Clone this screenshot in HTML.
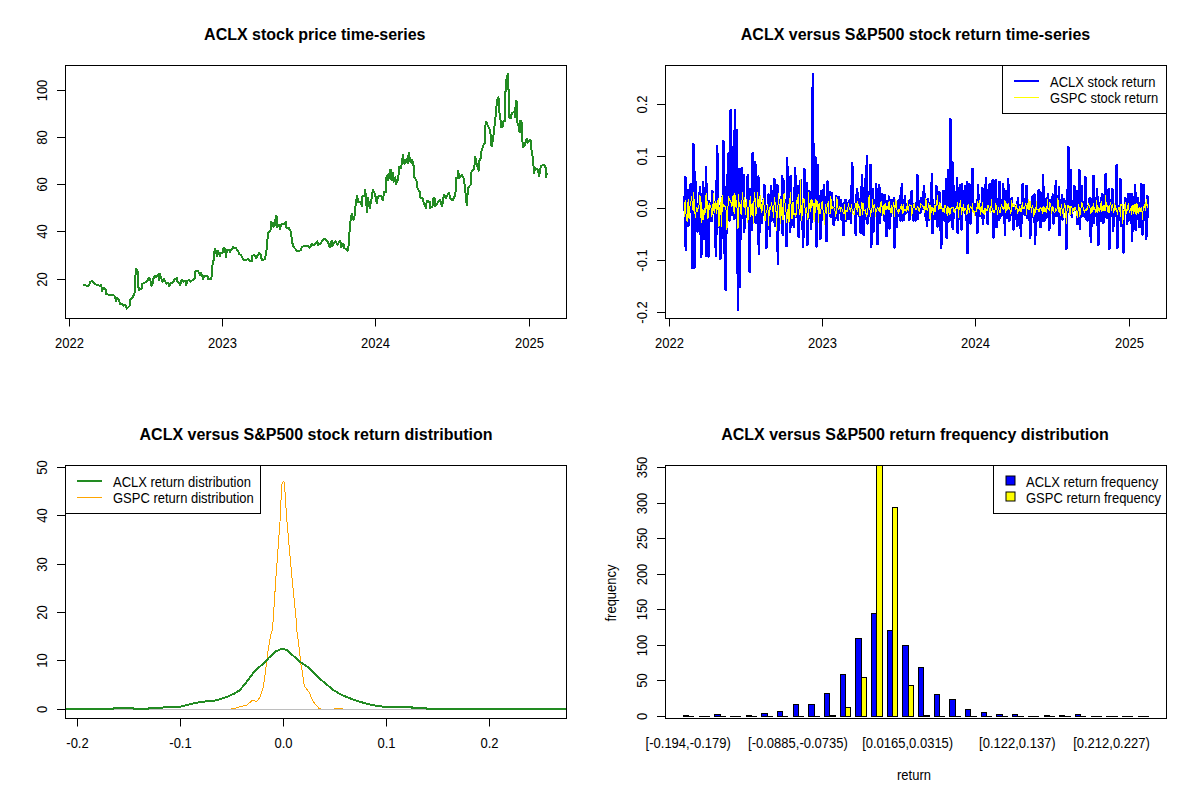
<!DOCTYPE html>
<html><head><meta charset="utf-8"><style>html,body{margin:0;padding:0;background:#fff;}svg{display:block;}</style></head>
<body><svg width="1200" height="800" viewBox="0 0 1200 800" font-family="Liberation Sans, sans-serif">
<rect width="1200" height="800" fill="#fff"/>
<rect x="65.5" y="65.5" width="501" height="253" fill="none" stroke="#000" stroke-width="1"/>
<line x1="69.5" y1="318" x2="69.5" y2="326.5" stroke="#000" stroke-width="1" />
<text transform="translate(69.5,348) scale(1,1.1)" font-size="13" text-anchor="middle" font-weight="normal" fill="#000">2022</text>
<line x1="222.5" y1="318" x2="222.5" y2="326.5" stroke="#000" stroke-width="1" />
<text transform="translate(222.5,348) scale(1,1.1)" font-size="13" text-anchor="middle" font-weight="normal" fill="#000">2023</text>
<line x1="375.5" y1="318" x2="375.5" y2="326.5" stroke="#000" stroke-width="1" />
<text transform="translate(375.5,348) scale(1,1.1)" font-size="13" text-anchor="middle" font-weight="normal" fill="#000">2024</text>
<line x1="529.5" y1="318" x2="529.5" y2="326.5" stroke="#000" stroke-width="1" />
<text transform="translate(529.5,348) scale(1,1.1)" font-size="13" text-anchor="middle" font-weight="normal" fill="#000">2025</text>
<line x1="69.5" y1="318.5" x2="529.5" y2="318.5" stroke="#000" stroke-width="1" />
<line x1="57" y1="90.5" x2="65" y2="90.5" stroke="#000" stroke-width="1" />
<text transform="translate(46.8,90.5) rotate(-90) scale(1,1.1)" font-size="13" text-anchor="middle" font-weight="normal" fill="#000">100</text>
<line x1="57" y1="137.5" x2="65" y2="137.5" stroke="#000" stroke-width="1" />
<text transform="translate(46.8,137.5) rotate(-90) scale(1,1.1)" font-size="13" text-anchor="middle" font-weight="normal" fill="#000">80</text>
<line x1="57" y1="184.5" x2="65" y2="184.5" stroke="#000" stroke-width="1" />
<text transform="translate(46.8,184.5) rotate(-90) scale(1,1.1)" font-size="13" text-anchor="middle" font-weight="normal" fill="#000">60</text>
<line x1="57" y1="231.5" x2="65" y2="231.5" stroke="#000" stroke-width="1" />
<text transform="translate(46.8,231.5) rotate(-90) scale(1,1.1)" font-size="13" text-anchor="middle" font-weight="normal" fill="#000">40</text>
<line x1="57" y1="279.5" x2="65" y2="279.5" stroke="#000" stroke-width="1" />
<text transform="translate(46.8,279.5) rotate(-90) scale(1,1.1)" font-size="13" text-anchor="middle" font-weight="normal" fill="#000">20</text>
<text transform="translate(314.8,40)" font-size="16" text-anchor="middle" font-weight="bold" fill="#000">ACLX stock price time-series</text>
<g shape-rendering="crispEdges">
<polyline points="83.38,285.75 84.50,285.00 88.25,286.50 90.50,281.63 92.38,280.88 95.00,283.88 97.25,285.00 99.50,285.75 101.38,284.63 101.75,291.00 104.00,288.00 105.50,289.50 106.25,294.00 110.00,295.13 112.25,294.75 114.50,295.88 116.00,300.75 117.13,298.13 119.00,300.00 120.13,303.75 122.75,304.13 123.50,306.00 125.00,304.50 126.88,308.63 129.50,306.00 129.88,300.00 132.50,297.75 134.75,292.50 135.13,281.63 135.88,268.88 137.00,270.00 138.13,273.00 138.13,285.00 138.88,289.88 141.50,288.75 142.25,283.88 143.75,283.13 146.00,282.00 147.88,280.50 148.63,277.88 150.13,279.00 151.25,285.75 152.75,283.50 153.13,279.00 155.00,276.00 156.50,277.13 158.38,274.13 159.13,280.50 159.88,273.75 162.50,281.75 164.00,278.75 165.13,281.00 166.25,283.63 168.50,283.25 169.25,285.88 170.75,282.88 173.00,282.50 174.13,279.88 176.75,278.00 177.13,281.75 179.00,282.50 180.13,285.13 181.63,279.88 183.50,281.75 185.38,281.00 186.13,285.13 187.25,281.00 189.50,279.88 190.25,281.75 192.50,280.25 194.75,278.00 195.50,271.25 198.13,271.25 200.00,275.00 201.13,272.75 203.00,278.75 204.50,275.75 207.50,276.50 208.25,279.13 210.88,279.50 212.00,275.00 212.75,260.75 213.88,260.00 214.25,252.50 215.00,248.75 215.75,251.00 216.88,255.88 218.00,251.00 219.88,255.88 221.00,252.50 222.50,252.50 223.63,248.00 225.13,249.50 225.88,257.00 227.00,250.25 228.88,249.88 230.00,251.75 233.00,247.25 234.88,248.38 236.00,248.13 238.25,251.50 239.00,253.75 241.25,255.25 243.88,260.50 246.50,259.75 248.38,259.00 249.50,260.88 251.75,261.25 251.75,256.00 254.38,254.88 256.25,258.25 258.88,253.00 260.75,254.50 261.88,260.50 264.88,259.00 266.00,253.75 267.13,246.25 267.88,232.75 270.50,230.50 270.88,222.25 273.13,223.00 273.50,226.75 275.00,224.50 275.75,215.88 276.88,216.25 277.25,227.50 279.13,224.50 279.88,229.00 281.75,223.75 283.25,224.50 285.88,221.88 286.25,227.50 288.88,228.25 291.13,232.00 291.88,241.75 293.75,247.00 297.50,251.50 300.50,250.38 302.00,246.63 305.00,246.25 308.75,246.25 309.50,248.13 312.00,243.62 313.75,245.37 317.25,241.43 318.12,245.37 320.75,243.18 323.81,238.81 326.00,239.68 328.18,242.74 329.93,247.55 331.68,240.99 332.12,246.24 335.62,240.99 337.37,244.93 339.56,240.99 340.43,240.56 340.87,247.12 343.50,243.62 344.37,247.99 347.87,250.62 348.74,244.49 349.62,230.49 350.49,220.87 351.81,213.87 353.56,220.00 354.87,214.75 355.74,203.37 357.06,195.94 358.37,202.50 360.56,201.62 361.87,206.00 362.31,196.37 364.49,195.50 364.93,189.81 366.24,196.37 366.68,212.12 367.99,198.12 369.74,208.18 371.49,199.00 372.80,189.81 374.99,193.75 376.74,202.94 378.05,196.37 381.12,195.94 382.87,200.31 384.18,192.00 386.12,191.81 386.12,178.25 387.44,175.18 388.31,180.00 390.06,169.93 391.37,170.37 391.37,180.00 393.12,173.00 393.56,182.18 395.31,177.37 396.19,183.93 398.37,179.12 398.81,166.87 401.00,167.75 402.31,161.62 402.75,154.62 404.50,163.81 406.25,159.44 407.56,163.37 408.87,152.44 410.18,161.19 411.50,162.50 411.93,159.44 413.68,166.00 414.12,177.37 416.31,180.00 417.62,188.74 419.81,192.24 420.24,197.49 422.87,198.37 423.74,203.62 425.93,207.99 426.81,200.99 429.87,201.87 430.31,207.99 432.49,206.24 433.37,198.37 434.68,198.37 435.12,206.24 437.74,202.74 439.93,199.68 442.12,206.24 443.43,197.49 444.30,194.87 445.62,198.37 448.24,193.99 449.12,192.68 449.99,198.37 452.62,200.12 454.80,195.74 455.68,191.37 456.12,178.25 457.87,177.37 457.87,170.81 458.37,171.12 458.94,177.87 461.75,175.06 464.00,179.00 465.69,194.75 466.81,205.44 467.94,188.00 470.75,184.62 471.31,172.25 474.12,168.87 475.25,157.06 476.94,165.50 478.62,170.56 479.19,161.00 481.44,156.50 481.44,150.87 483.69,144.69 485.37,143.00 485.37,126.12 485.94,121.43 488.12,126.24 490.31,130.62 491.19,145.49 492.06,146.36 492.94,137.62 494.25,130.62 494.69,122.74 496.00,113.12 496.87,100.87 498.18,97.37 499.06,100.00 499.50,113.12 500.37,115.74 500.81,127.12 503.00,126.24 503.43,120.99 505.18,120.99 505.62,82.50 506.93,78.12 507.81,74.19 508.25,89.50 509.12,90.37 509.12,117.49 510.87,118.37 511.75,113.12 513.50,112.24 514.81,111.37 515.24,117.49 515.68,100.87 516.99,101.75 517.43,122.74 518.74,126.24 519.62,132.37 520.06,120.99 521.37,120.99 522.24,128.87 522.65,147.49 524.99,145.61 525.93,139.99 527.33,138.58 527.80,142.80 529.68,139.99 530.61,140.93 531.08,147.49 532.49,155.92 533.43,164.36 533.89,172.79 535.30,168.11 538.11,169.98 539.05,176.54 540.92,166.23 543.27,164.83 544.20,165.30 546.08,168.11 546.08,177.01 547.01,172.79" fill="none" stroke="#228B22" stroke-width="2" stroke-linejoin="round" />
</g>
<rect x="665.5" y="65.5" width="501" height="253" fill="none" stroke="#000" stroke-width="1"/>
<line x1="669.5" y1="318" x2="669.5" y2="326.5" stroke="#000" stroke-width="1" />
<text transform="translate(669.5,348) scale(1,1.1)" font-size="13" text-anchor="middle" font-weight="normal" fill="#000">2022</text>
<line x1="822.5" y1="318" x2="822.5" y2="326.5" stroke="#000" stroke-width="1" />
<text transform="translate(822.5,348) scale(1,1.1)" font-size="13" text-anchor="middle" font-weight="normal" fill="#000">2023</text>
<line x1="975.5" y1="318" x2="975.5" y2="326.5" stroke="#000" stroke-width="1" />
<text transform="translate(975.5,348) scale(1,1.1)" font-size="13" text-anchor="middle" font-weight="normal" fill="#000">2024</text>
<line x1="1129.5" y1="318" x2="1129.5" y2="326.5" stroke="#000" stroke-width="1" />
<text transform="translate(1129.5,348) scale(1,1.1)" font-size="13" text-anchor="middle" font-weight="normal" fill="#000">2025</text>
<line x1="669.5" y1="318.5" x2="1129.5" y2="318.5" stroke="#000" stroke-width="1" />
<line x1="657" y1="104.5" x2="665" y2="104.5" stroke="#000" stroke-width="1" />
<text transform="translate(646.8,104.5) rotate(-90) scale(1,1.1)" font-size="13" text-anchor="middle" font-weight="normal" fill="#000">0.2</text>
<line x1="657" y1="156.5" x2="665" y2="156.5" stroke="#000" stroke-width="1" />
<text transform="translate(646.8,156.5) rotate(-90) scale(1,1.1)" font-size="13" text-anchor="middle" font-weight="normal" fill="#000">0.1</text>
<line x1="657" y1="208.5" x2="665" y2="208.5" stroke="#000" stroke-width="1" />
<text transform="translate(646.8,208.5) rotate(-90) scale(1,1.1)" font-size="13" text-anchor="middle" font-weight="normal" fill="#000">0.0</text>
<line x1="657" y1="260.5" x2="665" y2="260.5" stroke="#000" stroke-width="1" />
<text transform="translate(646.8,260.5) rotate(-90) scale(1,1.1)" font-size="13" text-anchor="middle" font-weight="normal" fill="#000">-0.1</text>
<line x1="657" y1="312.5" x2="665" y2="312.5" stroke="#000" stroke-width="1" />
<text transform="translate(646.8,312.5) rotate(-90) scale(1,1.1)" font-size="13" text-anchor="middle" font-weight="normal" fill="#000">-0.2</text>
<text transform="translate(915.5,40)" font-size="16" text-anchor="middle" font-weight="bold" fill="#000">ACLX versus S&amp;P500 stock return time-series</text>
<g shape-rendering="crispEdges">
<polyline points="684.00,211.04 684.61,206.24 685.23,177.16 685.84,250.22 686.46,210.86 687.07,211.41 687.68,190.20 688.30,225.49 688.91,215.26 689.52,210.78 690.14,202.49 690.75,184.21 691.37,206.79 691.98,202.96 692.59,268.22 693.21,144.48 693.82,207.89 694.43,267.47 695.05,172.21 695.66,206.97 696.28,208.28 696.89,219.86 697.50,231.48 698.12,204.09 698.73,206.28 699.34,206.32 699.96,187.20 700.57,220.02 701.19,256.97 701.80,220.34 702.41,215.00 703.03,182.26 703.64,212.37 704.25,238.98 704.87,207.53 705.48,209.73 706.10,167.41 706.71,256.22 707.32,206.18 707.94,213.46 708.55,256.22 709.16,201.45 709.78,207.51 710.39,206.98 711.01,213.58 711.62,220.99 712.23,191.25 712.85,199.54 713.46,205.96 714.07,201.96 714.69,213.32 715.30,214.07 715.92,255.47 716.53,211.59 717.14,146.27 717.76,210.11 718.37,205.49 718.98,207.89 719.60,212.24 720.21,259.22 720.83,215.42 721.44,212.70 722.05,201.81 722.67,214.49 723.28,141.48 723.89,253.22 724.51,207.91 725.12,206.78 725.74,289.96 726.35,218.76 726.96,175.21 727.58,209.14 728.19,201.28 728.80,153.47 729.42,220.38 730.03,211.45 730.65,110.29 731.26,210.11 731.87,214.55 732.49,147.47 733.10,206.33 733.71,209.83 734.33,218.60 734.94,110.29 735.56,204.27 736.17,205.26 736.78,129.78 737.40,203.53 738.01,309.45 738.62,200.44 739.24,169.21 739.85,286.96 740.47,207.18 741.08,208.70 741.69,168.46 742.31,217.56 742.92,205.59 743.53,175.21 744.15,231.48 744.76,213.27 745.38,212.27 745.99,217.35 746.60,215.49 747.22,212.76 747.83,175.21 748.44,201.38 749.06,220.38 749.67,271.96 750.29,189.15 750.90,218.56 751.51,207.95 752.13,229.99 752.74,153.17 753.35,200.42 753.97,205.83 754.58,220.38 755.20,161.72 755.81,223.24 756.42,220.38 757.04,207.21 757.65,214.05 758.26,176.71 758.88,253.97 759.49,216.44 760.11,203.33 760.72,202.55 761.33,208.46 761.95,222.49 762.56,207.91 763.17,206.73 763.79,199.54 764.40,185.25 765.02,205.57 765.63,206.20 766.24,247.98 766.86,206.02 767.47,219.25 768.08,201.43 768.70,194.70 769.31,203.47 769.93,235.98 770.54,206.13 771.15,186.15 771.77,220.38 772.38,213.40 772.99,204.18 773.61,220.38 774.22,179.26 774.84,225.49 775.45,210.59 776.06,203.07 776.68,217.64 777.29,185.25 777.90,263.72 778.52,199.54 779.13,205.99 779.75,210.38 780.36,207.41 780.97,205.38 781.59,208.69 782.20,176.26 782.81,234.48 783.43,180.46 784.04,202.28 784.66,213.58 785.27,212.03 785.88,202.93 786.50,245.73 787.11,158.27 787.72,209.27 788.34,214.95 788.95,203.52 789.57,200.28 790.18,232.23 790.79,176.26 791.41,212.22 792.02,218.07 792.63,210.28 793.25,210.37 793.86,226.99 794.48,211.31 795.09,168.46 795.70,200.66 796.32,215.86 796.93,201.56 797.54,217.37 798.16,185.70 798.77,236.73 799.39,214.36 800.00,205.49 800.61,180.46 801.23,202.39 801.84,204.07 802.46,207.28 803.07,247.23 803.68,208.55 804.30,169.21 804.91,208.49 805.52,205.85 806.14,210.54 806.75,183.46 807.37,244.98 807.98,207.71 808.59,205.86 809.21,190.95 809.82,209.44 810.43,204.67 811.05,228.49 811.66,205.90 812.28,199.54 812.89,74.01 813.50,207.41 814.12,212.12 814.73,211.77 815.34,157.22 815.96,209.52 816.57,246.48 817.19,203.67 817.80,165.46 818.41,211.55 819.03,207.03 819.64,199.54 820.25,238.98 820.87,190.95 821.48,220.38 822.10,216.47 822.71,207.92 823.32,206.95 823.94,184.96 824.55,207.95 825.16,212.14 825.78,205.35 826.39,241.23 827.01,207.68 827.62,181.51 828.23,212.71 828.85,199.54 829.46,207.22 830.07,191.70 830.69,216.49 831.30,212.91 831.92,193.20 832.53,210.06 833.14,210.85 833.76,224.74 834.37,209.83 834.98,220.38 835.60,212.49 836.21,196.20 836.83,203.14 837.44,216.75 838.05,219.49 838.67,196.95 839.28,209.86 839.89,203.48 840.51,204.09 841.12,200.12 841.74,220.08 842.35,211.65 842.96,211.57 843.58,235.23 844.19,205.55 844.80,202.62 845.42,199.95 846.03,220.38 846.65,202.64 847.26,214.99 847.87,218.49 848.49,205.17 849.10,218.77 849.71,199.95 850.33,208.34 850.94,223.24 851.56,201.97 852.17,163.22 852.78,210.38 853.40,208.25 854.01,204.46 854.62,208.56 855.24,210.00 855.85,235.23 856.47,199.86 857.08,189.15 857.69,202.89 858.31,211.28 858.92,199.54 859.53,216.61 860.15,203.72 860.76,232.98 861.38,211.10 861.99,175.21 862.60,208.61 863.22,205.03 863.83,235.23 864.44,208.05 865.06,205.45 865.67,178.21 866.29,218.99 866.90,156.17 867.51,223.24 868.13,218.88 868.74,205.60 869.35,215.46 869.97,215.86 870.58,165.16 871.20,246.48 871.81,218.63 872.42,201.52 873.04,189.45 873.65,231.48 874.26,204.77 874.88,200.23 875.49,215.30 876.11,184.21 876.72,209.44 877.33,244.23 877.95,216.57 878.56,204.65 879.17,184.96 879.79,222.49 880.40,199.54 881.02,215.01 881.63,199.69 882.24,193.95 882.86,203.26 883.47,210.55 884.08,220.38 884.70,195.45 885.31,200.65 885.93,210.04 886.54,235.98 887.15,213.21 887.77,206.94 888.38,206.88 888.99,196.65 889.61,228.49 890.22,200.08 890.84,215.82 891.45,202.34 892.06,200.14 892.68,200.36 893.29,210.57 893.90,198.45 894.52,247.23 895.13,214.09 895.75,203.07 896.36,208.72 896.97,226.99 897.59,202.20 898.20,208.67 898.81,200.54 899.43,211.09 900.04,196.20 900.66,220.38 901.27,211.86 901.88,184.21 902.50,220.38 903.11,204.32 903.72,220.24 904.34,207.46 904.95,196.20 905.57,213.26 906.18,209.50 906.79,204.24 907.41,208.95 908.02,201.15 908.63,209.83 909.25,220.24 909.86,202.94 910.48,200.12 911.09,199.54 911.70,190.95 912.32,213.64 912.93,203.94 913.54,220.38 914.16,217.24 914.77,216.22 915.39,220.38 916.00,202.76 916.61,217.14 917.23,175.21 917.84,218.74 918.46,209.52 919.07,210.64 919.68,209.62 920.30,213.14 920.91,198.15 921.52,207.98 922.14,199.54 922.75,209.17 923.37,206.12 923.98,186.00 924.59,203.19 925.21,210.68 925.82,217.32 926.43,212.91 927.05,226.24 927.66,199.20 928.28,202.73 928.89,219.73 929.50,213.18 930.12,203.14 930.73,204.49 931.34,209.39 931.96,174.16 932.57,232.98 933.19,204.41 933.80,208.40 934.41,216.81 935.03,219.22 935.64,213.44 936.25,186.15 936.87,203.67 937.48,226.24 938.10,212.98 938.71,215.08 939.32,192.15 939.94,214.26 940.55,219.02 941.16,247.98 941.78,210.18 942.39,216.82 943.01,207.17 943.62,190.95 944.23,220.38 944.85,207.39 945.46,213.45 946.07,178.96 946.69,237.48 947.30,220.38 947.92,204.91 948.53,169.96 949.14,211.16 949.76,220.38 950.37,118.99 950.98,214.91 951.60,207.62 952.21,162.47 952.83,229.24 953.44,212.31 954.05,186.45 954.67,204.57 955.28,204.77 955.89,205.28 956.51,207.40 957.12,178.21 957.74,232.98 958.35,201.10 958.96,205.32 959.58,206.62 960.19,184.96 960.80,220.38 961.42,229.24 962.03,184.21 962.65,203.84 963.26,201.26 963.87,211.30 964.49,212.38 965.10,186.45 965.71,199.54 966.33,220.38 966.94,181.96 967.56,253.22 968.17,206.51 968.78,199.54 969.40,184.21 970.01,215.24 970.62,223.24 971.24,205.13 971.85,199.54 972.47,168.91 973.08,210.19 973.69,205.93 974.31,203.80 974.92,215.10 975.53,210.00 976.15,207.61 976.76,204.28 977.38,232.98 977.99,184.96 978.60,209.66 979.22,210.66 979.83,215.79 980.44,211.69 981.06,203.87 981.67,208.81 982.29,187.95 982.90,223.99 983.51,214.78 984.13,214.70 984.74,199.54 985.35,202.32 985.97,177.91 986.58,205.46 987.20,220.38 987.81,223.99 988.42,205.56 989.04,206.44 989.65,184.21 990.26,199.54 990.88,206.77 991.49,209.86 992.11,206.18 992.72,180.01 993.33,237.48 993.95,220.38 994.56,202.98 995.17,207.41 995.79,180.46 996.40,226.99 997.02,213.83 997.63,201.15 998.24,199.54 998.86,220.24 999.47,182.26 1000.08,218.21 1000.70,213.61 1001.31,207.62 1001.93,208.29 1002.54,211.93 1003.15,184.21 1003.77,215.53 1004.38,199.54 1004.99,234.48 1005.61,190.95 1006.22,202.96 1006.84,216.91 1007.45,217.85 1008.06,179.26 1008.68,199.54 1009.29,220.99 1009.90,203.26 1010.52,199.54 1011.13,204.38 1011.75,198.45 1012.36,214.89 1012.97,207.81 1013.59,229.24 1014.20,220.38 1014.81,214.12 1015.43,209.81 1016.04,206.17 1016.66,213.99 1017.27,226.24 1017.88,198.15 1018.50,210.22 1019.11,206.58 1019.72,207.09 1020.34,205.45 1020.95,235.98 1021.57,208.14 1022.18,211.47 1022.79,184.21 1023.41,204.51 1024.02,209.13 1024.63,214.61 1025.25,213.36 1025.86,209.44 1026.48,186.15 1027.09,217.99 1027.70,210.13 1028.32,208.46 1028.93,209.45 1029.54,208.34 1030.16,238.23 1030.77,210.28 1031.39,217.31 1032.00,206.81 1032.61,196.20 1033.23,202.85 1033.84,206.72 1034.46,194.70 1035.07,244.23 1035.68,210.63 1036.30,206.65 1036.91,215.48 1037.52,220.38 1038.14,209.07 1038.75,190.20 1039.37,215.26 1039.98,191.70 1040.59,226.99 1041.21,204.82 1041.82,216.22 1042.43,220.38 1043.05,175.21 1043.66,215.94 1044.28,220.99 1044.89,199.58 1045.50,211.83 1046.12,218.00 1046.73,214.21 1047.34,206.19 1047.96,193.95 1048.57,206.34 1049.19,229.99 1049.80,208.34 1050.41,200.16 1051.03,205.02 1051.64,209.57 1052.25,205.71 1052.87,194.70 1053.48,223.24 1054.10,199.54 1054.71,203.37 1055.32,203.04 1055.94,181.21 1056.55,216.21 1057.16,210.37 1057.78,204.88 1058.39,211.30 1059.01,187.20 1059.62,235.23 1060.23,202.76 1060.85,205.71 1061.46,203.76 1062.07,194.70 1062.69,219.49 1063.30,210.77 1063.92,199.54 1064.53,201.69 1065.14,210.79 1065.76,208.88 1066.37,248.73 1066.98,199.54 1067.60,211.59 1068.21,147.17 1068.83,203.98 1069.44,203.31 1070.05,209.40 1070.67,169.96 1071.28,211.99 1071.89,216.74 1072.51,208.27 1073.12,207.20 1073.74,202.38 1074.35,186.45 1074.96,204.55 1075.58,209.29 1076.19,204.11 1076.80,190.95 1077.42,223.99 1078.03,206.07 1078.65,208.15 1079.26,170.26 1079.87,228.49 1080.49,209.10 1081.10,210.96 1081.71,186.45 1082.33,205.15 1082.94,216.03 1083.56,213.37 1084.17,209.41 1084.78,216.49 1085.40,177.16 1086.01,218.59 1086.62,212.17 1087.24,220.38 1087.85,213.71 1088.47,205.89 1089.08,205.90 1089.69,198.45 1090.31,209.78 1090.92,241.98 1091.53,210.89 1092.15,218.30 1092.76,199.54 1093.38,175.96 1093.99,223.24 1094.60,206.22 1095.22,202.61 1095.83,214.96 1096.44,210.60 1097.06,188.70 1097.67,220.38 1098.29,244.98 1098.90,204.56 1099.51,203.60 1100.13,220.38 1100.74,209.77 1101.35,205.50 1101.97,193.95 1102.58,220.38 1103.20,223.24 1103.81,220.38 1104.42,194.70 1105.04,216.10 1105.65,174.16 1106.26,213.38 1106.88,218.21 1107.49,209.24 1108.11,207.88 1108.72,189.45 1109.33,248.73 1109.95,205.48 1110.56,205.05 1111.17,200.05 1111.79,202.16 1112.40,189.15 1113.02,230.73 1113.63,217.64 1114.24,212.60 1114.86,216.07 1115.47,216.17 1116.08,209.95 1116.70,165.16 1117.31,247.98 1117.93,209.41 1118.54,206.38 1119.15,219.36 1119.77,217.18 1120.38,179.26 1120.99,225.49 1121.61,209.59 1122.22,210.69 1122.84,211.39 1123.45,252.47 1124.06,209.84 1124.68,214.19 1125.29,198.45 1125.90,205.06 1126.52,207.23 1127.13,223.99 1127.75,209.99 1128.36,193.95 1128.97,213.64 1129.59,210.53 1130.20,220.38 1130.81,215.58 1131.43,193.95 1132.04,241.23 1132.66,209.21 1133.27,218.85 1133.88,208.19 1134.50,208.52 1135.11,184.96 1135.72,229.99 1136.34,218.05 1136.95,211.01 1137.57,198.45 1138.18,211.40 1138.79,206.57 1139.41,226.99 1140.02,205.62 1140.63,209.67 1141.25,184.21 1141.86,214.76 1142.48,234.48 1143.09,210.34 1143.70,184.96 1144.32,209.85 1144.93,204.85 1145.54,207.60 1146.16,238.98 1146.77,213.96 1147.39,196.20 1148.00,217.91" fill="none" stroke="#0000FF" stroke-width="2.6" stroke-linejoin="round" />
<polyline points="684.00,217.97 684.61,205.45 685.23,200.62 685.84,212.41 686.46,218.79 687.07,221.43 687.68,204.66 688.30,199.82 688.91,217.90 689.52,218.50 690.14,202.88 690.75,204.70 691.37,196.41 691.98,200.72 692.59,209.20 693.21,210.54 693.82,192.77 694.43,210.66 695.05,214.53 695.66,217.30 696.28,207.65 696.89,207.26 697.50,211.10 698.12,208.89 698.73,206.27 699.34,202.99 699.96,195.01 700.57,206.76 701.19,222.39 701.80,202.92 702.41,219.49 703.03,209.74 703.64,219.92 704.25,208.38 704.87,214.48 705.48,206.73 706.10,192.77 706.71,208.78 707.32,201.82 707.94,218.74 708.55,210.65 709.16,203.22 709.78,209.12 710.39,205.51 711.01,207.59 711.62,216.26 712.23,203.99 712.85,214.75 713.46,193.77 714.07,212.35 714.69,203.04 715.30,208.38 715.92,200.96 716.53,213.11 717.14,200.59 717.76,209.37 718.37,198.53 718.98,227.31 719.60,207.30 720.21,214.50 720.83,202.40 721.44,226.95 722.05,195.57 722.67,211.35 723.28,204.06 723.89,204.43 724.51,206.19 725.12,206.77 725.74,206.98 726.35,213.08 726.96,229.45 727.58,211.50 728.19,203.78 728.80,196.59 729.42,200.76 730.03,200.17 730.65,202.33 731.26,202.94 731.87,206.97 732.49,202.37 733.10,194.85 733.71,210.96 734.33,213.82 734.94,193.08 735.56,206.49 736.17,200.81 736.78,201.57 737.40,217.28 738.01,228.61 738.62,194.52 739.24,207.02 739.85,202.52 740.47,207.41 741.08,215.31 741.69,209.28 742.31,192.46 742.92,199.68 743.53,202.86 744.15,207.93 744.76,197.81 745.38,214.35 745.99,202.20 746.60,199.71 747.22,210.68 747.83,222.39 748.44,215.48 749.06,206.55 749.67,204.27 750.29,196.30 750.90,216.25 751.51,208.38 752.13,203.33 752.74,209.63 753.35,224.03 753.97,202.10 754.58,192.77 755.20,200.55 755.81,215.57 756.42,211.62 757.04,206.67 757.65,192.77 758.26,203.58 758.88,207.51 759.49,196.23 760.11,208.95 760.72,195.79 761.33,213.04 761.95,211.62 762.56,203.52 763.17,198.75 763.79,203.97 764.40,206.36 765.02,220.74 765.63,213.23 766.24,212.54 766.86,212.01 767.47,204.43 768.08,210.67 768.70,225.96 769.31,207.84 769.93,210.65 770.54,207.60 771.15,205.50 771.77,202.59 772.38,211.63 772.99,209.98 773.61,217.64 774.22,197.54 774.84,198.57 775.45,209.61 776.06,211.64 776.68,230.91 777.29,207.25 777.90,207.00 778.52,193.62 779.13,206.73 779.75,213.67 780.36,224.03 780.97,198.85 781.59,207.12 782.20,219.30 782.81,207.18 783.43,219.29 784.04,192.77 784.66,200.82 785.27,204.52 785.88,209.59 786.50,222.89 787.11,209.26 787.72,218.93 788.34,204.36 788.95,222.89 789.57,214.55 790.18,192.46 790.79,197.27 791.41,216.40 792.02,218.79 792.63,202.44 793.25,202.62 793.86,215.08 794.48,213.10 795.09,213.10 795.70,216.46 796.32,213.01 796.93,199.93 797.54,203.73 798.16,194.47 798.77,208.98 799.39,209.32 800.00,215.05 800.61,179.54 801.23,217.29 801.84,220.44 802.46,203.68 803.07,198.65 803.68,202.73 804.30,199.38 804.91,206.69 805.52,213.26 806.14,207.82 806.75,210.93 807.37,215.93 807.98,219.86 808.59,192.30 809.21,208.44 809.82,207.38 810.43,211.61 811.05,198.72 811.66,207.19 812.28,204.45 812.89,200.15 813.50,213.95 814.12,221.74 814.73,203.30 815.34,213.06 815.96,199.52 816.57,206.11 817.19,201.58 817.80,203.23 818.41,222.49 819.03,203.53 819.64,212.96 820.25,213.52 820.87,211.35 821.48,203.20 822.10,202.41 822.71,201.55 823.32,219.64 823.94,212.40 824.55,224.03 825.16,209.09 825.78,204.34 826.39,213.57 827.01,206.74 827.62,206.83 828.23,201.58 828.85,213.96 829.46,214.01 830.07,213.57 830.69,196.53 831.30,201.01 831.92,209.24 832.53,206.87 833.14,207.63 833.76,207.02 834.37,209.81 834.98,210.66 835.60,216.91 836.21,212.75 836.83,197.22 837.44,204.77 838.05,207.96 838.67,209.85 839.28,207.98 839.89,206.01 840.51,211.43 841.12,207.48 841.74,207.27 842.35,211.91 842.96,212.10 843.58,213.08 844.19,213.39 844.80,204.23 845.42,219.47 846.03,209.65 846.65,211.27 847.26,211.31 847.87,207.94 848.49,203.11 849.10,208.04 849.71,209.06 850.33,211.27 850.94,209.00 851.56,204.12 852.17,210.25 852.78,213.78 853.40,214.33 854.01,213.59 854.62,214.92 855.24,203.25 855.85,206.73 856.47,209.51 857.08,201.56 857.69,211.48 858.31,204.87 858.92,204.64 859.53,215.65 860.15,215.70 860.76,212.75 861.38,204.15 861.99,202.32 862.60,214.16 863.22,203.48 863.83,210.20 864.44,210.24 865.06,210.98 865.67,209.92 866.29,216.93 866.90,213.09 867.51,214.19 868.13,206.10 868.74,198.60 869.35,195.59 869.97,209.98 870.58,216.47 871.20,210.31 871.81,212.80 872.42,199.10 873.04,205.72 873.65,211.82 874.26,204.01 874.88,205.89 875.49,216.02 876.11,210.89 876.72,209.52 877.33,208.31 877.95,207.78 878.56,209.99 879.17,207.51 879.79,211.15 880.40,212.60 881.02,201.29 881.63,206.71 882.24,206.34 882.86,215.88 883.47,209.18 884.08,204.56 884.70,214.45 885.31,203.25 885.93,210.23 886.54,206.51 887.15,209.02 887.77,207.38 888.38,202.76 888.99,210.29 889.61,201.06 890.22,212.07 890.84,212.77 891.45,205.07 892.06,213.40 892.68,210.14 893.29,204.15 893.90,202.72 894.52,216.72 895.13,206.03 895.75,199.57 896.36,202.80 896.97,209.53 897.59,211.22 898.20,209.79 898.81,213.81 899.43,209.64 900.04,209.08 900.66,208.93 901.27,204.09 901.88,209.24 902.50,213.72 903.11,204.57 903.72,212.31 904.34,210.03 904.95,208.89 905.57,209.66 906.18,212.06 906.79,209.31 907.41,200.43 908.02,210.61 908.63,208.90 909.25,204.30 909.86,205.68 910.48,205.62 911.09,205.26 911.70,215.58 912.32,211.55 912.93,207.93 913.54,206.58 914.16,203.68 914.77,206.69 915.39,209.27 916.00,208.26 916.61,209.17 917.23,207.50 917.84,205.94 918.46,209.64 919.07,211.37 919.68,211.52 920.30,204.40 920.91,203.73 921.52,204.78 922.14,205.28 922.75,205.36 923.37,208.41 923.98,205.98 924.59,212.24 925.21,209.14 925.82,197.98 926.43,205.75 927.05,210.52 927.66,208.79 928.28,206.94 928.89,203.46 929.50,211.29 930.12,219.86 930.73,205.42 931.34,212.43 931.96,206.75 932.57,210.48 933.19,208.79 933.80,215.04 934.41,205.80 935.03,210.22 935.64,211.68 936.25,200.82 936.87,205.80 937.48,195.60 938.10,206.91 938.71,209.67 939.32,208.01 939.94,202.54 940.55,208.50 941.16,206.76 941.78,206.52 942.39,211.72 943.01,207.93 943.62,210.23 944.23,212.94 944.85,205.22 945.46,205.97 946.07,208.13 946.69,211.71 947.30,215.72 947.92,206.63 948.53,208.76 949.14,214.54 949.76,208.62 950.37,213.95 950.98,208.50 951.60,207.88 952.21,207.11 952.83,207.61 953.44,207.78 954.05,212.56 954.67,209.80 955.28,210.26 955.89,209.26 956.51,207.42 957.12,206.14 957.74,202.44 958.35,217.77 958.96,206.94 959.58,209.12 960.19,200.10 960.80,205.00 961.42,214.43 962.03,206.94 962.65,210.30 963.26,204.78 963.87,212.25 964.49,208.77 965.10,208.88 965.71,208.75 966.33,210.53 966.94,215.10 967.56,206.72 968.17,204.76 968.78,208.65 969.40,212.11 970.01,207.66 970.62,206.34 971.24,209.04 971.85,208.45 972.47,203.26 973.08,212.48 973.69,210.43 974.31,215.35 974.92,210.95 975.53,211.10 976.15,211.90 976.76,210.93 977.38,201.85 977.99,209.12 978.60,208.82 979.22,200.38 979.83,208.62 980.44,214.72 981.06,206.93 981.67,211.82 982.29,202.42 982.90,212.94 983.51,210.52 984.13,214.26 984.74,208.04 985.35,212.10 985.97,208.64 986.58,209.77 987.20,210.64 987.81,204.96 988.42,204.99 989.04,208.17 989.65,211.68 990.26,212.30 990.88,207.42 991.49,199.68 992.11,210.07 992.72,211.26 993.33,210.94 993.95,212.39 994.56,211.95 995.17,209.15 995.79,203.17 996.40,208.40 997.02,210.26 997.63,214.29 998.24,207.62 998.86,208.50 999.47,212.87 1000.08,212.36 1000.70,208.55 1001.31,204.71 1001.93,206.11 1002.54,207.65 1003.15,209.58 1003.77,207.23 1004.38,208.44 1004.99,200.48 1005.61,212.53 1006.22,209.74 1006.84,203.78 1007.45,209.37 1008.06,203.20 1008.68,208.56 1009.29,207.87 1009.90,209.75 1010.52,213.43 1011.13,211.94 1011.75,200.32 1012.36,206.05 1012.97,206.19 1013.59,204.92 1014.20,206.32 1014.81,204.67 1015.43,209.37 1016.04,209.21 1016.66,204.81 1017.27,209.68 1017.88,213.25 1018.50,209.22 1019.11,210.39 1019.72,206.16 1020.34,211.03 1020.95,212.27 1021.57,209.61 1022.18,202.74 1022.79,208.57 1023.41,207.81 1024.02,208.37 1024.63,207.32 1025.25,205.01 1025.86,203.31 1026.48,214.40 1027.09,203.44 1027.70,208.41 1028.32,209.57 1028.93,199.65 1029.54,209.02 1030.16,201.31 1030.77,204.87 1031.39,212.16 1032.00,206.62 1032.61,205.71 1033.23,208.86 1033.84,216.89 1034.46,209.66 1035.07,209.10 1035.68,212.44 1036.30,201.74 1036.91,209.29 1037.52,209.83 1038.14,209.49 1038.75,211.26 1039.37,211.23 1039.98,208.06 1040.59,207.26 1041.21,210.25 1041.82,208.73 1042.43,213.47 1043.05,206.50 1043.66,211.13 1044.28,207.62 1044.89,211.71 1045.50,210.28 1046.12,207.62 1046.73,212.82 1047.34,199.39 1047.96,208.53 1048.57,208.67 1049.19,211.08 1049.80,202.58 1050.41,203.35 1051.03,207.31 1051.64,213.39 1052.25,210.24 1052.87,206.15 1053.48,210.27 1054.10,212.72 1054.71,212.73 1055.32,211.21 1055.94,208.35 1056.55,210.77 1057.16,208.33 1057.78,198.22 1058.39,201.93 1059.01,212.18 1059.62,207.15 1060.23,215.69 1060.85,208.90 1061.46,204.60 1062.07,209.61 1062.69,209.59 1063.30,217.78 1063.92,208.77 1064.53,203.71 1065.14,205.57 1065.76,213.29 1066.37,224.03 1066.98,211.31 1067.60,205.42 1068.21,207.58 1068.83,205.15 1069.44,208.63 1070.05,215.36 1070.67,206.76 1071.28,207.57 1071.89,206.55 1072.51,213.15 1073.12,208.10 1073.74,210.91 1074.35,210.91 1074.96,207.11 1075.58,207.11 1076.19,211.65 1076.80,214.64 1077.42,217.42 1078.03,210.50 1078.65,204.31 1079.26,208.60 1079.87,216.61 1080.49,211.55 1081.10,206.86 1081.71,202.30 1082.33,204.14 1082.94,207.06 1083.56,207.68 1084.17,212.26 1084.78,210.05 1085.40,209.61 1086.01,211.22 1086.62,208.17 1087.24,209.83 1087.85,207.17 1088.47,203.17 1089.08,205.70 1089.69,206.88 1090.31,209.28 1090.92,213.94 1091.53,208.82 1092.15,206.42 1092.76,212.08 1093.38,203.83 1093.99,209.62 1094.60,207.04 1095.22,209.60 1095.83,212.98 1096.44,200.86 1097.06,212.64 1097.67,205.05 1098.29,210.43 1098.90,207.38 1099.51,211.34 1100.13,209.92 1100.74,205.04 1101.35,201.30 1101.97,211.49 1102.58,208.36 1103.20,204.94 1103.81,210.70 1104.42,205.81 1105.04,211.26 1105.65,195.22 1106.26,206.81 1106.88,203.98 1107.49,207.07 1108.11,212.75 1108.72,205.98 1109.33,212.42 1109.95,205.66 1110.56,202.89 1111.17,206.23 1111.79,210.42 1112.40,204.05 1113.02,207.79 1113.63,212.94 1114.24,209.69 1114.86,203.22 1115.47,209.51 1116.08,207.96 1116.70,209.65 1117.31,214.55 1117.93,210.26 1118.54,207.10 1119.15,207.64 1119.77,209.03 1120.38,216.18 1120.99,203.94 1121.61,205.78 1122.22,204.67 1122.84,223.77 1123.45,210.02 1124.06,210.60 1124.68,207.25 1125.29,202.30 1125.90,214.55 1126.52,209.24 1127.13,211.01 1127.75,206.36 1128.36,203.06 1128.97,209.48 1129.59,212.92 1130.20,208.22 1130.81,209.44 1131.43,214.03 1132.04,205.17 1132.66,210.31 1133.27,205.91 1133.88,213.20 1134.50,204.40 1135.11,213.66 1135.72,204.56 1136.34,215.01 1136.95,203.37 1137.57,209.77 1138.18,214.07 1138.79,209.26 1139.41,207.17 1140.02,212.01 1140.63,210.20 1141.25,207.42 1141.86,209.02 1142.48,219.58 1143.09,209.97 1143.70,206.84 1144.32,207.31 1144.93,204.72 1145.54,210.92 1146.16,199.09 1146.77,205.48 1147.39,207.26 1148.00,204.44" fill="none" stroke="#FFFF00" stroke-width="1" stroke-linejoin="round" />
</g>
<rect x="1002.5" y="65.5" width="164" height="48" fill="#fff" stroke="#000"/>
<line x1="1014" y1="81" x2="1039" y2="81" stroke="#0000FF" stroke-width="2" />
<line x1="1014" y1="97.5" x2="1039" y2="97.5" stroke="#FFFF00" stroke-width="1" />
<text transform="translate(1050,87) scale(1,1.1)" font-size="13" text-anchor="start" font-weight="normal" fill="#000">ACLX stock return</text>
<text transform="translate(1050,102.5) scale(1,1.1)" font-size="13" text-anchor="start" font-weight="normal" fill="#000">GSPC stock return</text>
<rect x="65.5" y="465.5" width="501" height="253" fill="none" stroke="#000" stroke-width="1"/>
<text transform="translate(316,440)" font-size="16" text-anchor="middle" font-weight="bold" fill="#000">ACLX versus S&amp;P500 stock return distribution</text>
<line x1="77.5" y1="718" x2="77.5" y2="726.5" stroke="#000" stroke-width="1" />
<text transform="translate(77.5,748) scale(1,1.1)" font-size="13" text-anchor="middle" font-weight="normal" fill="#000">-0.2</text>
<line x1="180.5" y1="718" x2="180.5" y2="726.5" stroke="#000" stroke-width="1" />
<text transform="translate(180.5,748) scale(1,1.1)" font-size="13" text-anchor="middle" font-weight="normal" fill="#000">-0.1</text>
<line x1="283.5" y1="718" x2="283.5" y2="726.5" stroke="#000" stroke-width="1" />
<text transform="translate(283.5,748) scale(1,1.1)" font-size="13" text-anchor="middle" font-weight="normal" fill="#000">0.0</text>
<line x1="386.5" y1="718" x2="386.5" y2="726.5" stroke="#000" stroke-width="1" />
<text transform="translate(386.5,748) scale(1,1.1)" font-size="13" text-anchor="middle" font-weight="normal" fill="#000">0.1</text>
<line x1="489.5" y1="718" x2="489.5" y2="726.5" stroke="#000" stroke-width="1" />
<text transform="translate(489.5,748) scale(1,1.1)" font-size="13" text-anchor="middle" font-weight="normal" fill="#000">0.2</text>
<line x1="77.5" y1="718.5" x2="489.5" y2="718.5" stroke="#000" stroke-width="1" />
<line x1="57" y1="709.5" x2="65" y2="709.5" stroke="#000" stroke-width="1" />
<text transform="translate(46.8,709.5) rotate(-90) scale(1,1.1)" font-size="13" text-anchor="middle" font-weight="normal" fill="#000">0</text>
<line x1="57" y1="660.5" x2="65" y2="660.5" stroke="#000" stroke-width="1" />
<text transform="translate(46.8,660.5) rotate(-90) scale(1,1.1)" font-size="13" text-anchor="middle" font-weight="normal" fill="#000">10</text>
<line x1="57" y1="612.5" x2="65" y2="612.5" stroke="#000" stroke-width="1" />
<text transform="translate(46.8,612.5) rotate(-90) scale(1,1.1)" font-size="13" text-anchor="middle" font-weight="normal" fill="#000">20</text>
<line x1="57" y1="564.5" x2="65" y2="564.5" stroke="#000" stroke-width="1" />
<text transform="translate(46.8,564.5) rotate(-90) scale(1,1.1)" font-size="13" text-anchor="middle" font-weight="normal" fill="#000">30</text>
<line x1="57" y1="515.5" x2="65" y2="515.5" stroke="#000" stroke-width="1" />
<text transform="translate(46.8,515.5) rotate(-90) scale(1,1.1)" font-size="13" text-anchor="middle" font-weight="normal" fill="#000">40</text>
<line x1="57" y1="467.5" x2="65" y2="467.5" stroke="#000" stroke-width="1" />
<text transform="translate(46.8,467.5) rotate(-90) scale(1,1.1)" font-size="13" text-anchor="middle" font-weight="normal" fill="#000">50</text>
<polyline points="225.00,709.50 234.20,708.70 240.00,706.70 246.70,705.30 251.70,700.80 253.30,700.30 256.70,701.70 260.00,697.00 263.30,686.70 265.00,675.00 266.70,661.70 268.30,649.20 270.80,635.00 272.40,630.00 273.00,622.00 274.60,598.00 276.00,576.00 277.40,558.00 278.60,540.00 280.00,522.00 281.00,500.00 282.00,484.00 283.40,481.60 284.60,483.00 285.40,500.00 287.00,522.00 288.60,540.00 290.20,558.00 292.00,578.00 294.00,598.00 296.00,618.00 296.60,630.00 297.50,635.00 299.20,648.30 300.80,663.30 302.50,673.30 304.20,685.80 309.20,692.50 311.70,698.30 315.00,704.20 319.20,708.50 322.00,709.50 334.00,709.50 335.00,708.50 342.00,708.50 343.00,709.50 350.00,709.50" fill="none" stroke="#FFA500" stroke-width="1" stroke-linejoin="round" shape-rendering="crispEdges"/>
<line x1="66" y1="709.5" x2="566" y2="709.5" stroke="#BEBEBE" stroke-width="1" shape-rendering="crispEdges"/>
<polyline points="65.80,709.00 113.30,709.00 114.00,708.00 133.30,708.00 134.00,709.00 148.30,709.00 149.00,708.00 163.30,707.50 180.00,706.70 191.70,703.80 200.00,702.00 216.70,700.30 226.70,697.00 235.00,693.30 240.00,690.00 246.70,681.70 250.00,677.50 255.00,670.80 261.70,665.00 268.30,658.30 275.00,651.70 281.70,648.80 286.70,650.00 293.30,655.80 300.00,661.70 308.30,667.50 316.70,675.80 323.30,681.70 333.30,690.00 341.70,695.00 350.00,698.30 358.30,701.30 366.70,703.80 375.00,705.50 383.30,706.70 411.70,707.00 412.00,708.00 426.00,708.00 427.00,709.00 566.00,709.00" fill="none" stroke="#228B22" stroke-width="2" stroke-linejoin="round" shape-rendering="crispEdges"/>
<rect x="65.5" y="465.5" width="195" height="48" fill="#fff" stroke="#000"/>
<line x1="77" y1="481" x2="102" y2="481" stroke="#228B22" stroke-width="2" />
<line x1="77" y1="497.5" x2="102" y2="497.5" stroke="#FFA500" stroke-width="1" />
<text transform="translate(113,487) scale(1,1.1)" font-size="13" text-anchor="start" font-weight="normal" fill="#000">ACLX return distribution</text>
<text transform="translate(113,502.5) scale(1,1.1)" font-size="13" text-anchor="start" font-weight="normal" fill="#000">GSPC return distribution</text>
<rect x="665.5" y="465.5" width="501" height="253" fill="none" stroke="#000" stroke-width="1"/>
<text transform="translate(915,440)" font-size="16" text-anchor="middle" font-weight="bold" fill="#000">ACLX versus S&amp;P500 return frequency distribution</text>
<line x1="657" y1="716.5" x2="665" y2="716.5" stroke="#000" stroke-width="1" />
<text transform="translate(646.8,716.5) rotate(-90) scale(1,1.1)" font-size="13" text-anchor="middle" font-weight="normal" fill="#000">0</text>
<line x1="657" y1="680.5" x2="665" y2="680.5" stroke="#000" stroke-width="1" />
<text transform="translate(646.8,680.5) rotate(-90) scale(1,1.1)" font-size="13" text-anchor="middle" font-weight="normal" fill="#000">50</text>
<line x1="657" y1="645.5" x2="665" y2="645.5" stroke="#000" stroke-width="1" />
<text transform="translate(646.8,645.5) rotate(-90) scale(1,1.1)" font-size="13" text-anchor="middle" font-weight="normal" fill="#000">100</text>
<line x1="657" y1="609.5" x2="665" y2="609.5" stroke="#000" stroke-width="1" />
<text transform="translate(646.8,609.5) rotate(-90) scale(1,1.1)" font-size="13" text-anchor="middle" font-weight="normal" fill="#000">150</text>
<line x1="657" y1="574.5" x2="665" y2="574.5" stroke="#000" stroke-width="1" />
<text transform="translate(646.8,574.5) rotate(-90) scale(1,1.1)" font-size="13" text-anchor="middle" font-weight="normal" fill="#000">200</text>
<line x1="657" y1="538.5" x2="665" y2="538.5" stroke="#000" stroke-width="1" />
<text transform="translate(646.8,538.5) rotate(-90) scale(1,1.1)" font-size="13" text-anchor="middle" font-weight="normal" fill="#000">250</text>
<line x1="657" y1="503.5" x2="665" y2="503.5" stroke="#000" stroke-width="1" />
<text transform="translate(646.8,503.5) rotate(-90) scale(1,1.1)" font-size="13" text-anchor="middle" font-weight="normal" fill="#000">300</text>
<line x1="657" y1="467.5" x2="665" y2="467.5" stroke="#000" stroke-width="1" />
<text transform="translate(646.8,467.5) rotate(-90) scale(1,1.1)" font-size="13" text-anchor="middle" font-weight="normal" fill="#000">350</text>
<g shape-rendering="crispEdges">
<rect x="683.5" y="715.5" width="5" height="1" fill="#0000FF" stroke="#000" stroke-width="1"/>
<line x1="688" y1="716.5" x2="694" y2="716.5" stroke="#000" stroke-width="1"/>
<line x1="699" y1="716.5" x2="705" y2="716.5" stroke="#000" stroke-width="1"/>
<line x1="704" y1="716.5" x2="710" y2="716.5" stroke="#000" stroke-width="1"/>
<rect x="714.5" y="714.5" width="6" height="2" fill="#0000FF" stroke="#000" stroke-width="1"/>
<line x1="720" y1="716.5" x2="726" y2="716.5" stroke="#000" stroke-width="1"/>
<line x1="730" y1="716.5" x2="736" y2="716.5" stroke="#000" stroke-width="1"/>
<line x1="735" y1="716.5" x2="741" y2="716.5" stroke="#000" stroke-width="1"/>
<rect x="746.5" y="715.5" width="5" height="1" fill="#0000FF" stroke="#000" stroke-width="1"/>
<line x1="751" y1="716.5" x2="757" y2="716.5" stroke="#000" stroke-width="1"/>
<rect x="761.5" y="713.5" width="6" height="3" fill="#0000FF" stroke="#000" stroke-width="1"/>
<line x1="767" y1="716.5" x2="773" y2="716.5" stroke="#000" stroke-width="1"/>
<rect x="777.5" y="711.5" width="5" height="5" fill="#0000FF" stroke="#000" stroke-width="1"/>
<line x1="782" y1="716.5" x2="788" y2="716.5" stroke="#000" stroke-width="1"/>
<rect x="793.5" y="704.5" width="5" height="12" fill="#0000FF" stroke="#000" stroke-width="1"/>
<line x1="798" y1="716.5" x2="804" y2="716.5" stroke="#000" stroke-width="1"/>
<rect x="808.5" y="704.5" width="6" height="12" fill="#0000FF" stroke="#000" stroke-width="1"/>
<line x1="814" y1="716.5" x2="820" y2="716.5" stroke="#000" stroke-width="1"/>
<rect x="824.5" y="693.5" width="5" height="23" fill="#0000FF" stroke="#000" stroke-width="1"/>
<rect x="829.5" y="715.5" width="6" height="1" fill="#FFFF00" stroke="#000" stroke-width="1"/>
<rect x="840.5" y="674.5" width="5" height="42" fill="#0000FF" stroke="#000" stroke-width="1"/>
<rect x="845.5" y="707.5" width="5" height="9" fill="#FFFF00" stroke="#000" stroke-width="1"/>
<rect x="855.5" y="638.5" width="6" height="78" fill="#0000FF" stroke="#000" stroke-width="1"/>
<rect x="861.5" y="677.5" width="5" height="39" fill="#FFFF00" stroke="#000" stroke-width="1"/>
<rect x="871.5" y="613.5" width="5" height="103" fill="#0000FF" stroke="#000" stroke-width="1"/>
<rect x="876.5" y="465.5" width="6" height="251" fill="#FFFF00" stroke="#000" stroke-width="1"/>
<rect x="887.5" y="630.5" width="5" height="86" fill="#0000FF" stroke="#000" stroke-width="1"/>
<rect x="892.5" y="507.5" width="5" height="209" fill="#FFFF00" stroke="#000" stroke-width="1"/>
<rect x="902.5" y="645.5" width="6" height="71" fill="#0000FF" stroke="#000" stroke-width="1"/>
<rect x="908.5" y="685.5" width="5" height="31" fill="#FFFF00" stroke="#000" stroke-width="1"/>
<rect x="918.5" y="667.5" width="5" height="49" fill="#0000FF" stroke="#000" stroke-width="1"/>
<rect x="923.5" y="715.5" width="6" height="1" fill="#FFFF00" stroke="#000" stroke-width="1"/>
<rect x="934.5" y="694.5" width="5" height="22" fill="#0000FF" stroke="#000" stroke-width="1"/>
<line x1="939" y1="716.5" x2="945" y2="716.5" stroke="#000" stroke-width="1"/>
<rect x="949.5" y="699.5" width="6" height="17" fill="#0000FF" stroke="#000" stroke-width="1"/>
<line x1="955" y1="716.5" x2="961" y2="716.5" stroke="#000" stroke-width="1"/>
<rect x="965.5" y="709.5" width="5" height="7" fill="#0000FF" stroke="#000" stroke-width="1"/>
<line x1="970" y1="716.5" x2="977" y2="716.5" stroke="#000" stroke-width="1"/>
<rect x="981.5" y="712.5" width="5" height="4" fill="#0000FF" stroke="#000" stroke-width="1"/>
<line x1="986" y1="716.5" x2="992" y2="716.5" stroke="#000" stroke-width="1"/>
<rect x="996.5" y="714.5" width="6" height="2" fill="#0000FF" stroke="#000" stroke-width="1"/>
<line x1="1002" y1="716.5" x2="1008" y2="716.5" stroke="#000" stroke-width="1"/>
<rect x="1012.5" y="714.5" width="5" height="2" fill="#0000FF" stroke="#000" stroke-width="1"/>
<line x1="1017" y1="716.5" x2="1024" y2="716.5" stroke="#000" stroke-width="1"/>
<line x1="1028" y1="716.5" x2="1034" y2="716.5" stroke="#000" stroke-width="1"/>
<line x1="1033" y1="716.5" x2="1039" y2="716.5" stroke="#000" stroke-width="1"/>
<rect x="1044.5" y="715.5" width="5" height="1" fill="#0000FF" stroke="#000" stroke-width="1"/>
<line x1="1049" y1="716.5" x2="1055" y2="716.5" stroke="#000" stroke-width="1"/>
<rect x="1059.5" y="715.5" width="5" height="1" fill="#0000FF" stroke="#000" stroke-width="1"/>
<line x1="1064" y1="716.5" x2="1071" y2="716.5" stroke="#000" stroke-width="1"/>
<rect x="1075.5" y="714.5" width="5" height="2" fill="#0000FF" stroke="#000" stroke-width="1"/>
<line x1="1080" y1="716.5" x2="1086" y2="716.5" stroke="#000" stroke-width="1"/>
<line x1="1091" y1="716.5" x2="1097" y2="716.5" stroke="#000" stroke-width="1"/>
<line x1="1096" y1="716.5" x2="1102" y2="716.5" stroke="#000" stroke-width="1"/>
<line x1="1106" y1="716.5" x2="1112" y2="716.5" stroke="#000" stroke-width="1"/>
<line x1="1111" y1="716.5" x2="1118" y2="716.5" stroke="#000" stroke-width="1"/>
<line x1="1122" y1="716.5" x2="1128" y2="716.5" stroke="#000" stroke-width="1"/>
<line x1="1127" y1="716.5" x2="1133" y2="716.5" stroke="#000" stroke-width="1"/>
<line x1="1138" y1="716.5" x2="1144" y2="716.5" stroke="#000" stroke-width="1"/>
<line x1="1143" y1="716.5" x2="1149" y2="716.5" stroke="#000" stroke-width="1"/>
</g>
<text transform="translate(688.2247,748) scale(1,1.1)" font-size="13" text-anchor="middle" font-weight="normal" fill="#000">[-0.194,-0.179)</text>
<text transform="translate(797.9434,748) scale(1,1.1)" font-size="13" text-anchor="middle" font-weight="normal" fill="#000">[-0.0885,-0.0735)</text>
<text transform="translate(907.6621,748) scale(1,1.1)" font-size="13" text-anchor="middle" font-weight="normal" fill="#000">[0.0165,0.0315)</text>
<text transform="translate(1017.3808,748) scale(1,1.1)" font-size="13" text-anchor="middle" font-weight="normal" fill="#000">[0.122,0.137)</text>
<text transform="translate(1111.4254,748) scale(1,1.1)" font-size="13" text-anchor="middle" font-weight="normal" fill="#000">[0.212,0.227)</text>
<text transform="translate(914,780) scale(1,1.1)" font-size="13" text-anchor="middle" font-weight="normal" fill="#000">return</text>
<text transform="translate(616,593) rotate(-90) scale(1,1.1)" font-size="13" text-anchor="middle" font-weight="normal" fill="#000">frequency</text>
<rect x="993.5" y="465.5" width="173" height="48" fill="#fff" stroke="#000"/>
<rect x="1006" y="476" width="9" height="9" fill="#0000FF" stroke="#000"/>
<rect x="1006" y="492" width="9" height="9" fill="#FFFF00" stroke="#000"/>
<text transform="translate(1026,487) scale(1,1.1)" font-size="13" text-anchor="start" font-weight="normal" fill="#000">ACLX return frequency</text>
<text transform="translate(1026,502.5) scale(1,1.1)" font-size="13" text-anchor="start" font-weight="normal" fill="#000">GSPC return frequency</text>
</svg></body></html>
